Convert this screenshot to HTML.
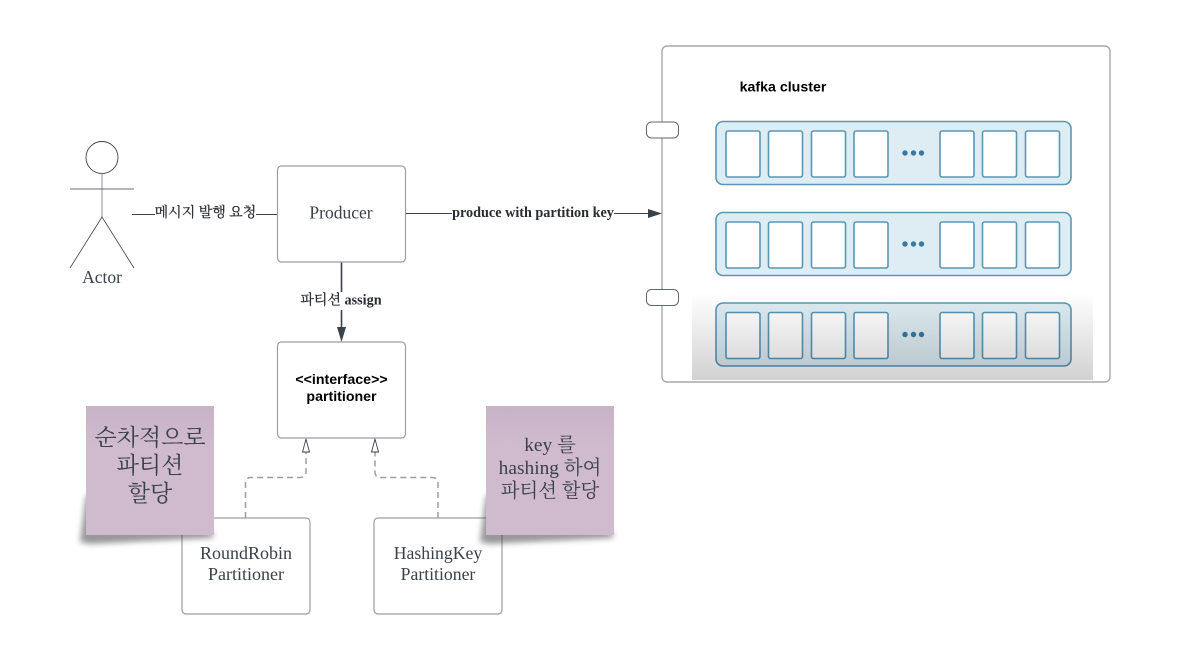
<!DOCTYPE html>
<html>
<head>
<meta charset="utf-8">
<style>
html,body{margin:0;padding:0;background:#fff}
svg{display:block}
.s{font-family:"Liberation Serif","Noto Serif CJK SC",serif;fill:#3a414a;text-anchor:middle}
.b{font-family:"Liberation Sans",sans-serif;font-weight:bold;fill:#000;text-anchor:middle}
.l{font-family:"Liberation Serif","Noto Serif CJK SC",serif;font-weight:bold;fill:#282c33;text-anchor:middle;font-size:14.2px}
.k{font-weight:400;font-size:14px;stroke:#282c33;stroke-width:.25}
.box{fill:#fff;stroke:#9c9ea4;stroke-width:1.2}
.in{fill:none;stroke:#3a414a;stroke-width:.8}
.row{fill:#deedf3;stroke:#5b96b5;stroke-width:1.6}
.cell{fill:#fff;stroke:#5b96b5;stroke-width:1.6}
.dash{fill:none;stroke:#9c9ea4;stroke-width:1.500;stroke-dasharray:6 4}
</style>
</head>
<body>
<svg width="1180" height="661" viewBox="0 0 1180 661" xmlns="http://www.w3.org/2000/svg">
<defs>
<linearGradient id="fade" x1="0" y1="0" x2="0" y2="1">
<stop offset="0" stop-color="#000" stop-opacity="0"/>
<stop offset="1" stop-color="#000" stop-opacity=".18"/>
</linearGradient>
<linearGradient id="note" x1="0" y1="0" x2="0" y2="1">
<stop offset="0" stop-color="#c8b2c7"/>
<stop offset=".3" stop-color="#d0bace"/>
<stop offset="1" stop-color="#d0bace"/>
</linearGradient>
<filter id="blur" x="-30%" y="-30%" width="160%" height="160%"><feGaussianBlur stdDeviation="3"/></filter>
<g id="cells">
<rect class="cell" x="726" y="131" width="34" height="46" rx="2"/>
<rect class="cell" x="768.500" y="131" width="34" height="46" rx="2"/>
<rect class="cell" x="811.500" y="131" width="34" height="46" rx="2"/>
<rect class="cell" x="854" y="131" width="34" height="46" rx="2"/>
<rect class="cell" x="940" y="131" width="34" height="46" rx="2"/>
<rect class="cell" x="982.500" y="131" width="34" height="46" rx="2"/>
<rect class="cell" x="1025.500" y="131" width="34" height="46" rx="2"/>
<circle cx="905" cy="153" r="2.700" fill="#37799f"/>
<circle cx="913.500" cy="153" r="2.700" fill="#37799f"/>
<circle cx="921.500" cy="153" r="2.700" fill="#37799f"/>
</g>
</defs>

<!-- Kafka cluster -->
<rect x="662" y="46" width="448" height="336" rx="5" fill="#fff" stroke="#a8a9ae" stroke-width="1.400"/>
<rect x="646.500" y="122" width="32" height="16" rx="5" fill="#fff" stroke="#62666d" stroke-width="1"/>
<rect x="646.500" y="289.500" width="32" height="16" rx="5" fill="#fff" stroke="#62666d" stroke-width="1"/>
<text class="b" x="783" y="91.500" font-size="14.200">kafka cluster</text>

<rect class="row" x="716" y="121.500" width="355" height="63" rx="7"/>
<use href="#cells"/>
<rect class="row" x="716" y="212.500" width="355" height="63" rx="7"/>
<use href="#cells" y="91"/>
<rect class="row" x="716" y="303" width="355" height="63" rx="7"/>
<use href="#cells" y="181.500"/>
<rect x="692" y="293" width="401" height="87" fill="url(#fade)"/>

<!-- Actor -->
<circle cx="102" cy="157.500" r="16" fill="#fff" stroke="#3a414a" stroke-width=".9"/>
<line x1="102" y1="173.500" x2="102" y2="217" stroke="#a9abb0" stroke-width="1.300"/>
<line x1="70" y1="189" x2="134" y2="189" class="in"/>
<path d="M70 268L102 217L134 268" class="in"/>
<text class="s" x="102" y="283" font-size="17.500">Actor</text>

<!-- Connectors -->
<line x1="132" y1="214.500" x2="277" y2="214.500" stroke="#3a414a" stroke-width="1.100"/>
<rect x="155" y="204" width="101" height="20" fill="#fff"/>
<text class="l k" x="205.500" y="217">메시지 발행 요청</text>

<line x1="406" y1="213.500" x2="650" y2="213.500" stroke="#3a414a" stroke-width="1.100"/>
<path d="M648 209L662 213.500L648 218Z" fill="#3a414a"/>
<rect x="452" y="204" width="162" height="20" fill="#fff"/>
<text class="l" x="533" y="217">produce with partition key</text>

<line x1="341.500" y1="262" x2="341.500" y2="330" stroke="#3a414a" stroke-width="1.600"/>
<path d="M337 327L341.500 342L346 327Z" fill="#3a414a"/>
<rect x="300" y="292" width="82" height="18" fill="#fff"/>
<text class="l" x="341" y="304.500"><tspan class="k">파티션</tspan> assign</text>

<!-- Dashed inheritance -->
<path class="dash" d="M245.500 518V483Q245.500 477.500 251 477.500H300Q306 477.500 306 472V452"/>
<path d="M306 439L302.500 452H309.500Z" fill="#fff" stroke="#3a414a" stroke-width=".9"/>
<path class="dash" d="M438 518V483Q438 477.500 432 477.500H381Q375 477.500 375 472V452"/>
<path d="M375 439L371.500 452H378.500Z" fill="#fff" stroke="#3a414a" stroke-width=".9"/>

<!-- Boxes -->
<rect class="box" x="277.500" y="166" width="128" height="96" rx="4"/>
<text class="s" x="341" y="218.500" font-size="17.500">Producer</text>

<rect class="box" x="277.500" y="342" width="128" height="96" rx="4"/>
<text class="b" x="341.500" y="384" font-size="14.200">&lt;&lt;interface&gt;&gt;</text>
<text class="b" x="341.500" y="401" font-size="14.200">partitioner</text>

<rect class="box" x="182" y="518" width="128" height="96" rx="4"/>
<text class="s" x="246" y="559" font-size="18">RoundRobin</text>
<text class="s" x="246" y="580" font-size="18">Partitioner</text>

<rect class="box" x="374" y="518" width="128" height="96" rx="4"/>
<text class="s" x="438" y="559" font-size="17.700">HashingKey</text>
<text class="s" x="438" y="580" font-size="17.700">Partitioner</text>

<!-- Sticky notes -->
<path d="M86 495L214 533L212 538L90 544L80 542Z" fill="#444" opacity=".55" filter="url(#blur)"/>
<rect x="86" y="406" width="128" height="129" fill="url(#note)"/>
<text class="s" x="150" y="445" font-size="23">순차적으로</text>
<text class="s" x="150" y="473" font-size="23">파티션</text>
<text class="s" x="150" y="501" font-size="23">할당</text>

<path d="M486 495L614 533L612 538L490 544L480 542Z" fill="#444" opacity=".55" filter="url(#blur)"/>
<rect x="486" y="406" width="128" height="129" fill="url(#note)"/>
<text class="s" x="550" y="451" font-size="19.400">key 를</text>
<text class="s" x="550" y="474" font-size="19.400">hashing 하여</text>
<text class="s" x="550" y="497" font-size="19.400">파티션 할당</text>
</svg>
</body>
</html>
